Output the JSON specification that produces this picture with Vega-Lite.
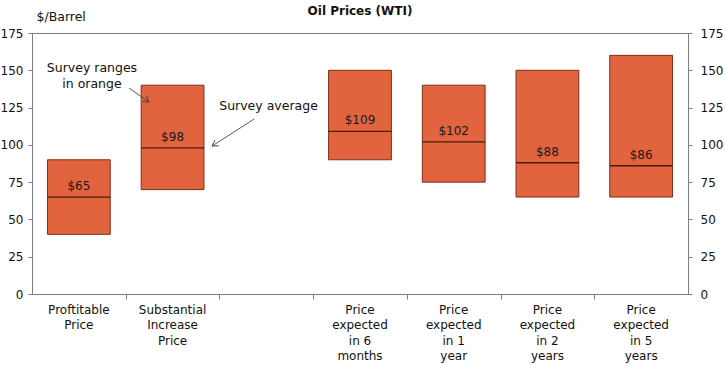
{
  "$schema": "https://vega.github.io/schema/vega-lite/v6.json",
  "width": 656,
  "height": 261,
  "autosize": {"type": "none"},
  "padding": {"left": 32, "top": 33, "right": 37, "bottom": 71},
  "title": {"text": "Oil Prices (WTI)", "fontSize": 12, "fontWeight": "bold", "font": "DejaVu Sans", "color": "#111111", "offset": -8, "anchor": "middle"},
  "config": {
    "font": "DejaVu Sans",
    "view": {"stroke": "#7f7f7f", "strokeWidth": 1},
    "axis": {"labelFont": "DejaVu Sans", "labelFontSize": 12, "labelColor": "#111111", "domainColor": "#7f7f7f", "tickColor": "#7f7f7f", "grid": false}
  },
  "datasets": {
    "survey": [
      {"category": "Proftitable\nPrice", "low": 40, "high": 90, "avg": 65},
      {"category": "Substantial\nIncrease\nPrice", "low": 70, "high": 140, "avg": 98},
      {"category": "Price\nexpected\nin 6\nmonths", "low": 90, "high": 150, "avg": 109},
      {"category": "Price\nexpected\nin 1\nyear", "low": 75, "high": 140, "avg": 102},
      {"category": "Price\nexpected\nin 2\nyears", "low": 65, "high": 150, "avg": 88},
      {"category": "Price\nexpected\nin 5\nyears", "low": 65, "high": 160, "avg": 86}
    ],
    "notes": [
      {"x": 0.64, "y": 151.5, "text": "Survey ranges"},
      {"x": 0.64, "y": 140.8, "text": "in orange"},
      {"x": 2.524, "y": 126, "text": "Survey average"}
    ],
    "arrow1": [{"x": 1.035, "y": 138.1, "x2": 1.249, "y2": 128.7}],
    "arrow2": [{"x": 2.37, "y": 117.3, "x2": 1.921, "y2": 99.2}]
  },
  "resolve": {"scale": {"x": "independent"}, "axis": {"x": "independent", "y": "independent"}},
  "layer": [
    {
      "data": {"name": "survey"},
      "encoding": {
        "x": {
          "field": "category", "type": "nominal", "sort": null,
          "scale": {
            "domain": ["Proftitable\nPrice", "Substantial\nIncrease\nPrice", " ", "Price\nexpected\nin 6\nmonths", "Price\nexpected\nin 1\nyear", "Price\nexpected\nin 2\nyears", "Price\nexpected\nin 5\nyears"],
            "paddingInner": 0.33, "paddingOuter": 0.165
          },
          "axis": {"title": null, "domain": false, "ticks": false, "labelAngle": 0, "labelExpr": "split(datum.value, '\\n')", "labelPadding": 10, "labelLineHeight": 15.5, "labelBaseline": "top", "labelOverlap": false}
        },
        "y": {"field": "low", "type": "quantitative", "scale": {"domain": [0, 175], "nice": false},
          "axis": {"orient": "left", "values": [0, 25, 50, 75, 100, 125, 150, 175], "tickSize": 4, "labelPadding": 5, "title": "$/Barrel", "titleAngle": 0, "titleAlign": "left", "titleBaseline": "middle", "titleX": 4, "titleY": -17, "titleFontWeight": "normal", "titleFontSize": 12.5, "titleColor": "#111111", "titleFont": "DejaVu Sans"}}
      },
      "layer": [
        {
          "mark": {"type": "bar", "fill": "#E2643E", "stroke": "#7a2f18", "strokeWidth": 1},
          "encoding": {
            "y2": {"field": "high"}
          }
        },
        {
          "mark": {"type": "rule", "stroke": "#4a1a0a", "strokeWidth": 1.3},
          "encoding": {
            "x": {"field": "category", "type": "nominal", "sort": null, "bandPosition": 0},
            "x2": {"field": "category", "bandPosition": 1},
            "y": {"field": "avg", "type": "quantitative"}
          }
        },
        {
          "mark": {"type": "text", "dy": -7, "baseline": "alphabetic", "fontSize": 12, "color": "#1a1a1a"},
          "encoding": {
            "y": {"field": "avg", "type": "quantitative"},
            "text": {"field": "avg", "type": "quantitative", "format": "$.0f"}
          }
        }
      ]
    },
    {
      "encoding": {
        "x": {"field": "x", "type": "quantitative", "scale": {"domain": [0, 7], "nice": false, "zero": false},
          "axis": {"orient": "bottom", "values": [1, 2, 3, 4, 5, 6], "labels": false, "tickSize": 5, "title": null, "domain": true}},
        "y": {"field": "y", "type": "quantitative", "scale": {"domain": [0, 175], "nice": false},
          "axis": {"orient": "right", "values": [0, 25, 50, 75, 100, 125, 150, 175], "tickSize": 4, "labelPadding": 8, "title": null}}
      },
      "layer": [
        {
          "data": {"name": "notes"},
          "mark": {"type": "text", "fontSize": 12.5, "baseline": "middle", "align": "center", "color": "#111111"},
          "encoding": {
            "text": {"field": "text"}
          }
        },
        {
          "data": {"name": "arrow1"},
          "layer": [
            {
              "mark": {"type": "rule", "color": "#444444", "strokeWidth": 0.9},
              "encoding": {
                "x2": {"field": "x2"},
                "y2": {"field": "y2"}
              }
            },
            {
              "mark": {"type": "point", "shape": "M-1,-0.6L0,0L-1,0.6", "angle": 35, "size": 130, "filled": false, "stroke": "#444444", "strokeWidth": 0.9, "opacity": 1},
              "encoding": {
                "x": {"field": "x2", "type": "quantitative"},
                "y": {"field": "y2", "type": "quantitative"}
              }
            }
          ]
        },
        {
          "data": {"name": "arrow2"},
          "layer": [
            {
              "mark": {"type": "rule", "color": "#444444", "strokeWidth": 0.9},
              "encoding": {
                "x2": {"field": "x2"},
                "y2": {"field": "y2"}
              }
            },
            {
              "mark": {"type": "point", "shape": "M-1,-0.6L0,0L-1,0.6", "angle": 147, "size": 130, "filled": false, "stroke": "#444444", "strokeWidth": 0.9, "opacity": 1},
              "encoding": {
                "x": {"field": "x2", "type": "quantitative"},
                "y": {"field": "y2", "type": "quantitative"}
              }
            }
          ]
        }
      ]
    }
  ]
}
